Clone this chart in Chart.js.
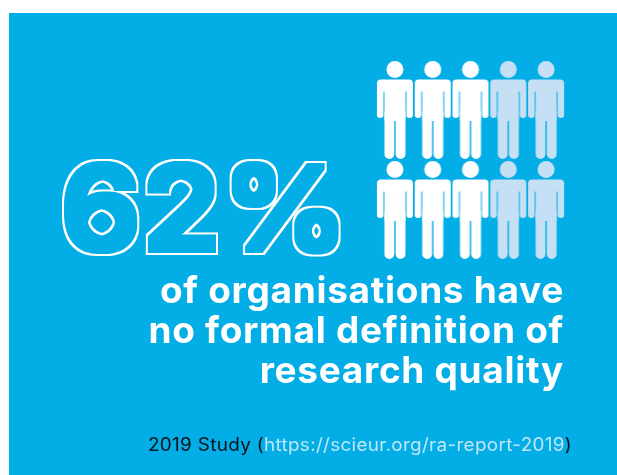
<!DOCTYPE html>
<html>
<head>
<meta charset="utf-8">
<title>62%</title>
<script src="https://cdn.jsdelivr.net/npm/chart.js@4"></script>
<style>
  html, body { margin: 0; padding: 0; background: #fff; overflow: hidden; }
  #wrap { position: relative; width: 617px; height: 475px; }
  #panel { position: absolute; left: 9px; top: 13px; width: 608px; height: 462px; background: #03ade6; }
  #g1 { position: absolute; left: 0; top: 0; }
  .txt { position: absolute; white-space: nowrap; }
  #big {
    left: 60px; top: 143px; padding: 10px; margin: -10px; font: 600 116px/130px Inter; letter-spacing: 2px;
    color: #fff; filter: url(#contorno);
    transform-origin: left top; transform: scaleX(1.075);
  }
  #sub {
    right: 53px; top: 270px; text-align: right; color: #fff;
    font: 700 37px/40px Inter; letter-spacing: 0.7px;
  }
  #src {
    left: 148px; top: 435px; font: 400 18px/20px Inter; color: #06141c; letter-spacing: 0.3px;
    transform-origin: left top; transform: scaleX(1.05);
  }
  #src span { color: #bfe6f7; }
</style>
</head>
<body>
<svg width="0" height="0" style="position:absolute">
  <filter id="contorno" x="-10%" y="-10%" width="120%" height="120%" color-interpolation-filters="sRGB">
    <feMorphology in="SourceAlpha" operator="dilate" radius="2.5" result="inner"/>
    <feMorphology in="SourceAlpha" operator="dilate" radius="4.5" result="outer"/>
    <feComposite in="outer" in2="inner" operator="out" result="ring"/>
    <feGaussianBlur in="ring" stdDeviation="0.4" result="soft"/>
    <feFlood flood-color="#ffffff"/>
    <feComposite in2="soft" operator="in"/>
  </filter>
</svg>
<div id="wrap">
  <div id="panel"></div>
  <canvas id="g1" width="617" height="475"></canvas>
  <div class="txt" id="big">62%</div>
  <div class="txt" id="sub">of organisations have<br>no formal definition of<br>research quality</div>
  <div class="txt" id="src">2019 Study (<span>https://scieur.org/ra-report-2019</span>)</div>
</div>
<script>
 // Posição de cada pessoa na grade
 const personColumn = [1, 2, 3, 4, 5, 1, 2, 3, 4, 5];
 const personRow = [2, 2, 2, 2, 2, 1, 1, 1, 1, 1];
 const personActive = [1, 1, 1, 0, 0, 1, 1, 1, 0, 0];

 const colorOn = '#ffffff';
 const colorOff = '#c5e0f5';

 // Desenha o ícone da pessoa num canvas, usado como pointStyle
 function makePerson(color) {
     const c = document.createElement('canvas');
     c.width = 38;
     c.height = 98;
     const g = c.getContext('2d');
     g.fillStyle = color;
     g.beginPath();
     g.arc(19, 8.5, 8.5, 0, Math.PI * 2);
     g.fill();
     // tronco e ombros
     g.beginPath();
     g.roundRect(1, 18.5, 36, 12, [4, 4, 0, 0]);
     g.fill();
     g.fillRect(8.5, 24, 21, 36);
     // braços
     g.beginPath();
     g.roundRect(1, 24, 6.5, 33, [0, 0, 3.2, 3.2]);
     g.roundRect(30.5, 24, 6.5, 33, [0, 0, 3.2, 3.2]);
     // pernas
     g.roundRect(8.5, 50, 9.8, 48, [0, 0, 4.8, 4.8]);
     g.roundRect(19.7, 50, 9.8, 48, [0, 0, 4.8, 4.8]);
     g.fill();
     return c;
 }

 const iconOn = makePerson(colorOn);
 const iconOff = makePerson(colorOff);

 const ctx = document.getElementById('g1').getContext('2d');

 new Chart(ctx, {
     type: 'scatter',
     data: {
         datasets: [{
             data: personColumn.map((col, i) => ({ x: col, y: personRow[i] })),
             pointStyle: personActive.map(v => v ? iconOn : iconOff),
             clip: false
         }]
     },
     options: {
         responsive: false,
         animation: false,
         layout: { padding: { left: 376, right: 52, top: 60, bottom: 215 } },
         scales: {
             x: { display: false, min: 0.5, max: 5.5 },
             y: { display: false, min: 0.5, max: 2.5 }
         },
         plugins: { legend: { display: false }, tooltip: { enabled: false } }
     }
 });
</script>
</body>
</html>
